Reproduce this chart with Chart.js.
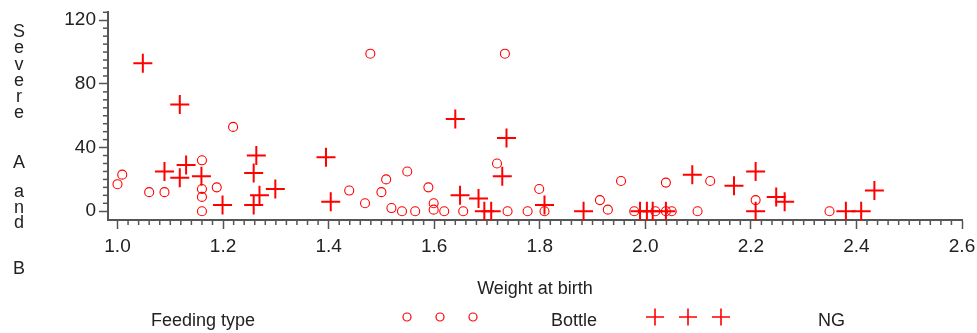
<!DOCTYPE html>
<html><head><meta charset="utf-8">
<script src="https://cdn.jsdelivr.net/npm/chart.js@4/dist/chart.umd.min.js"></script>
<style>html,body{margin:0;padding:0;background:#fff;}#wrap{width:977px;height:333px;position:relative;}</style>
</head><body><div id="wrap"><canvas id="c" width="977" height="333"></canvas></div>
<script>
// ---- data ----
const bottleX = [1.000,1.009,1.060,1.089,1.160,1.160,1.160,1.160,1.188,1.219,1.439,1.469,1.479,1.500,1.509,1.519,1.539,1.549,1.564,1.589,1.599,1.599,1.619,1.655,1.719,1.734,1.739,1.777,1.799,1.809,1.914,1.929,1.954,1.979,2.019,2.039,2.039,2.050,2.099,2.123,2.209,2.349];
const bottleY = [17,23,12,12,32,14,9,0,15,53,13,5,99,12,20,2,0,25,0,15,5,1,0,0,30,99,0,0,14,0,7,1,19,0,0,18,0,0,0,19,7,0];
const ngX = [1.048,1.118,1.089,1.130,1.118,1.159,1.199,1.263,1.258,1.258,1.269,1.299,1.395,1.404,1.640,1.737,1.729,1.649,1.684,1.695,1.708,1.809,1.883,1.990,2.003,2.014,2.039,2.089,2.168,2.209,2.209,2.248,2.264,2.380,2.409,2.434];
const ngY = [93,67,25,29,21,22,4,35,24,4,10,14,34,6,58,46,22,10,8,0,0,4,0,0,0,0,0,23,16,25,0,9,6,0,0,13];
const xTicks = [1.0,1.2,1.4,1.6,1.8,2.0,2.2,2.4,2.6];
const yTicks = [0,40,80,120];
const xMinor = {from:1.0, to:2.6, step:0.02};
const yMinor = {from:0, to:125, step:5};
const xTitle = 'Weight at birth';
const yTitle = 'Severe A and B';
const legendTitle = 'Feeding type';
const seriesNames = ['Bottle','NG'];

const RED = '#ff0000';
const FONT = 'Liberation Sans, Arial, sans-serif';
const AXIS = '#555';

const decor = {
  id: 'decor',
  afterDraw(chart) {
    const ctx = chart.ctx, xs = chart.scales.x, ys = chart.scales.y, ca = chart.chartArea;
    ctx.save();
    // minor ticks
    ctx.strokeStyle = AXIS; ctx.lineWidth = 1.5;
    const nx = Math.round((xMinor.to - xMinor.from) / xMinor.step);
    for (let i = 0; i <= nx; i++) {
      if (i % 10 === 0) continue;
      const px = xs.getPixelForValue(xMinor.from + i * xMinor.step);
      ctx.beginPath(); ctx.moveTo(px, ca.bottom); ctx.lineTo(px, ca.bottom + 5); ctx.stroke();
    }
    const ny = Math.round((yMinor.to - yMinor.from) / yMinor.step);
    for (let i = 0; i <= ny; i++) {
      if (i % 8 === 0) continue;
      const py = ys.getPixelForValue(yMinor.from + i * yMinor.step);
      ctx.beginPath(); ctx.moveTo(ca.left, py); ctx.lineTo(ca.left - 5, py); ctx.stroke();
    }
    // y title, stacked letters
    ctx.fillStyle = '#222';
    ctx.font = '18px ' + FONT;
    ctx.textAlign = 'center'; ctx.textBaseline = 'middle';
    const ypos = [32, 48, 65, 81, 97, 113, null, 163, null, 192, 208, 223, null, 269];
    const letters = yTitle.split('');
    letters.forEach((ch, i) => { if (ch !== ' ' && ypos[i] != null) ctx.fillText(ch, 19, ypos[i]); });
    // legend
    ctx.font = '18px ' + FONT;
    ctx.textAlign = 'left';
    ctx.fillText(legendTitle, 151, 321);
    ctx.fillText(seriesNames[0], 551, 321);
    ctx.fillText(seriesNames[1], 818, 321);
    ctx.strokeStyle = RED;
    ctx.lineWidth = 1.2;
    [407, 440, 473].forEach(x => { ctx.beginPath(); ctx.arc(x, 317, 4, 0, Math.PI * 2); ctx.stroke(); });
    ctx.lineWidth = 1.6;
    [655, 688, 721].forEach(x => {
      ctx.beginPath(); ctx.moveTo(x - 9, 317); ctx.lineTo(x + 9, 317);
      ctx.moveTo(x, 308.5); ctx.lineTo(x, 325.5); ctx.stroke();
    });
    ctx.restore();
  }
};

new Chart(document.getElementById('c'), {
  type: 'scatter',
  data: {
    datasets: [
      { label: seriesNames[0], data: bottleX.map((x, i) => ({x, y: bottleY[i]})), pointStyle: 'circle', pointRadius: 4.5, borderColor: RED, backgroundColor: 'rgba(0,0,0,0)', borderWidth: 1.1, clip: false },
      { label: seriesNames[1], data: ngX.map((x, i) => ({x, y: ngY[i]})), pointStyle: 'cross', pointRadius: 9.5, borderColor: RED, backgroundColor: RED, borderWidth: 2, clip: false }
    ]
  },
  options: {
    responsive: false, animation: false, events: [],
    layout: { padding: { left: 0, right: 15, top: 9, bottom: 33 } },
    plugins: { legend: { display: false }, tooltip: { enabled: false } },
    scales: {
      x: {
        type: 'linear', min: 0.982, max: 2.6,
        afterBuildTicks: s => { s.ticks = xTicks.map(v => ({value: v})); },
        afterFit: s => { s.height = 80; s.paddingLeft = 0; s.paddingRight = 0; },
        grid: { display: true, drawOnChartArea: false, drawTicks: true, tickLength: 9, tickColor: AXIS, tickWidth: 1.5 },
        border: { display: true, color: AXIS, width: 2 },
        ticks: { font: { family: FONT, size: 19 }, color: '#222', padding: 6, maxRotation: 0, autoSkip: false, callback: v => Number(v).toFixed(1) },
        title: { display: true, text: xTitle, font: { family: FONT, size: 18 }, color: '#222', padding: { top: 0, bottom: 0 } }
      },
      y: {
        type: 'linear', min: -5.5, max: 125.5,
        afterBuildTicks: s => { s.ticks = yTicks.map(v => ({value: v})); },
        afterFit: s => { s.width = 108; s.paddingTop = 0; s.paddingBottom = 0; },
        grid: { display: true, drawOnChartArea: false, drawTicks: true, tickLength: 9, tickColor: AXIS, tickWidth: 1.5 },
        border: { display: true, color: AXIS, width: 2 },
        ticks: { font: { family: FONT, size: 19 }, color: '#222', padding: 3, autoSkip: false, callback: v => String(v) }
      }
    }
  },
  plugins: [decor]
});
</script></body></html>
